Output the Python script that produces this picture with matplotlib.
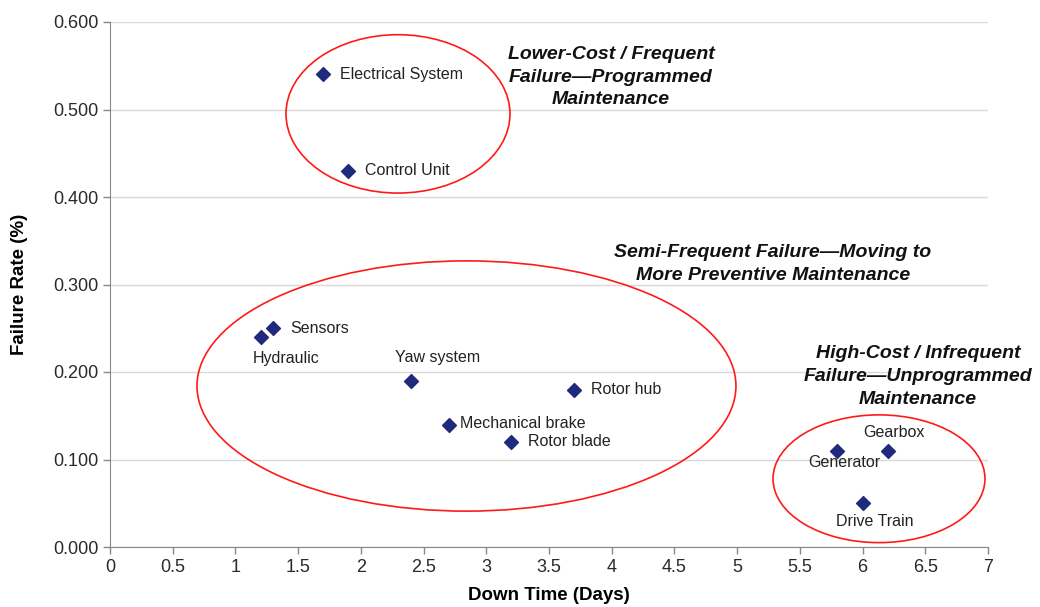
import matplotlib.pyplot as plt
from matplotlib.patches import Ellipse
from matplotlib.ticker import FormatStrFormatter

plt.rcParams['font.family'] = ['Liberation Sans', 'DejaVu Sans']

# down time (days) vs failure rate (%) per component
komponenter = ["Electrical System", "Control Unit", "Sensors", "Hydraulic",
               "Yaw system", "Rotor hub", "Mechanical brake", "Rotor blade",
               "Generator", "Gearbox", "Drive Train"]
nedetid = [1.7, 1.9, 1.3, 1.2, 2.4, 3.7, 2.7, 3.2, 5.8, 6.2, 6.0]
feilrate = [0.54, 0.43, 0.25, 0.24, 0.19, 0.18, 0.14, 0.12, 0.11, 0.11, 0.05]

# label offset in pixels and alignment for each point
etikett_pos = {
    "Electrical System": ((17, 0), "left", "center"),
    "Control Unit": ((17, 0), "left", "center"),
    "Sensors": ((17, 0), "left", "center"),
    "Hydraulic": ((-8, -22), "left", "center"),
    "Yaw system": ((-16, 23), "left", "center"),
    "Rotor hub": ((17, 0), "left", "center"),
    "Mechanical brake": ((11, 1), "left", "center"),
    "Rotor blade": ((17, 0), "left", "center"),
    "Generator": ((-29, -12), "left", "center"),
    "Gearbox": ((-24, 18), "left", "center"),
    "Drive Train": ((-27, -18), "left", "center"),
}

# groups: (centre x, centre y, width, height)
grupper = [(2.296, 0.495, 1.786, 0.181),
           (2.842, 0.184, 4.297, 0.286),
           (6.131, 0.078, 1.690, 0.146)]

grupp_tekst = ["Lower-Cost / Frequent\nFailure\u2014Programmed\nMaintenance",
               "Semi-Frequent Failure\u2014Moving to\nMore Preventive Maintenance",
               "High-Cost / Infrequent\nFailure\u2014Unprogrammed\nMaintenance"]
grupp_tekst_xy = [(3.994, 0.537), (5.286, 0.323), (6.442, 0.195)]

x_ticks = [0, 0.5, 1, 1.5, 2, 2.5, 3, 3.5, 4, 4.5, 5, 5.5, 6, 6.5, 7]
y_ticks = [0.0, 0.1, 0.2, 0.3, 0.4, 0.5, 0.6]

fig = plt.figure(figsize=(10.4, 6.07), dpi=100)
ax = fig.add_axes([110 / 1040, 1 - 547 / 607, 878 / 1040, 525 / 607])

ax.scatter(nedetid, feilrate, marker="D", s=50, color="#1f2a7c", zorder=3)

for navn, x, y in zip(komponenter, nedetid, feilrate):
    off, ha, va = etikett_pos[navn]
    ax.annotate(navn, (x, y), xytext=off, textcoords="offset pixels",
                ha=ha, va=va, fontsize=11.5, color="#222222", zorder=4)

for cx, cy, w, h in grupper:
    ax.add_patch(Ellipse((cx, cy), w, h, fill=False, edgecolor="#ff1a1a",
                         linewidth=1.2, zorder=2))

for tekst, (tx, ty) in zip(grupp_tekst, grupp_tekst_xy):
    ax.text(tx, ty, tekst, ha="center", va="center", fontsize=14,
            fontweight="bold", fontstyle="italic", color="#111111",
            linespacing=1.45)

ax.set_xlim(0, 7)
ax.set_ylim(0, 0.6)
ax.set_xticks(x_ticks)
ax.set_xticklabels([f"{t:g}" for t in x_ticks])
ax.set_yticks(y_ticks)
ax.yaxis.set_major_formatter(FormatStrFormatter("%.3f"))

ax.grid(axis="y", color="#d9d9d9", linewidth=1)
ax.set_axisbelow(True)
for side in ["top", "right"]:
    ax.spines[side].set_visible(False)
for side in ["left", "bottom"]:
    ax.spines[side].set_color("#888888")
ax.tick_params(colors="#888888", labelcolor="#2a2a2a", labelsize=13,
               length=5, width=1)

ax.set_xlabel("Down Time (Days)", fontsize=13.5, fontweight="bold", labelpad=8)
ax.set_ylabel("Failure Rate (%)", fontsize=13.5, fontweight="bold", labelpad=18)

fig.savefig("out.png", dpi=100)
